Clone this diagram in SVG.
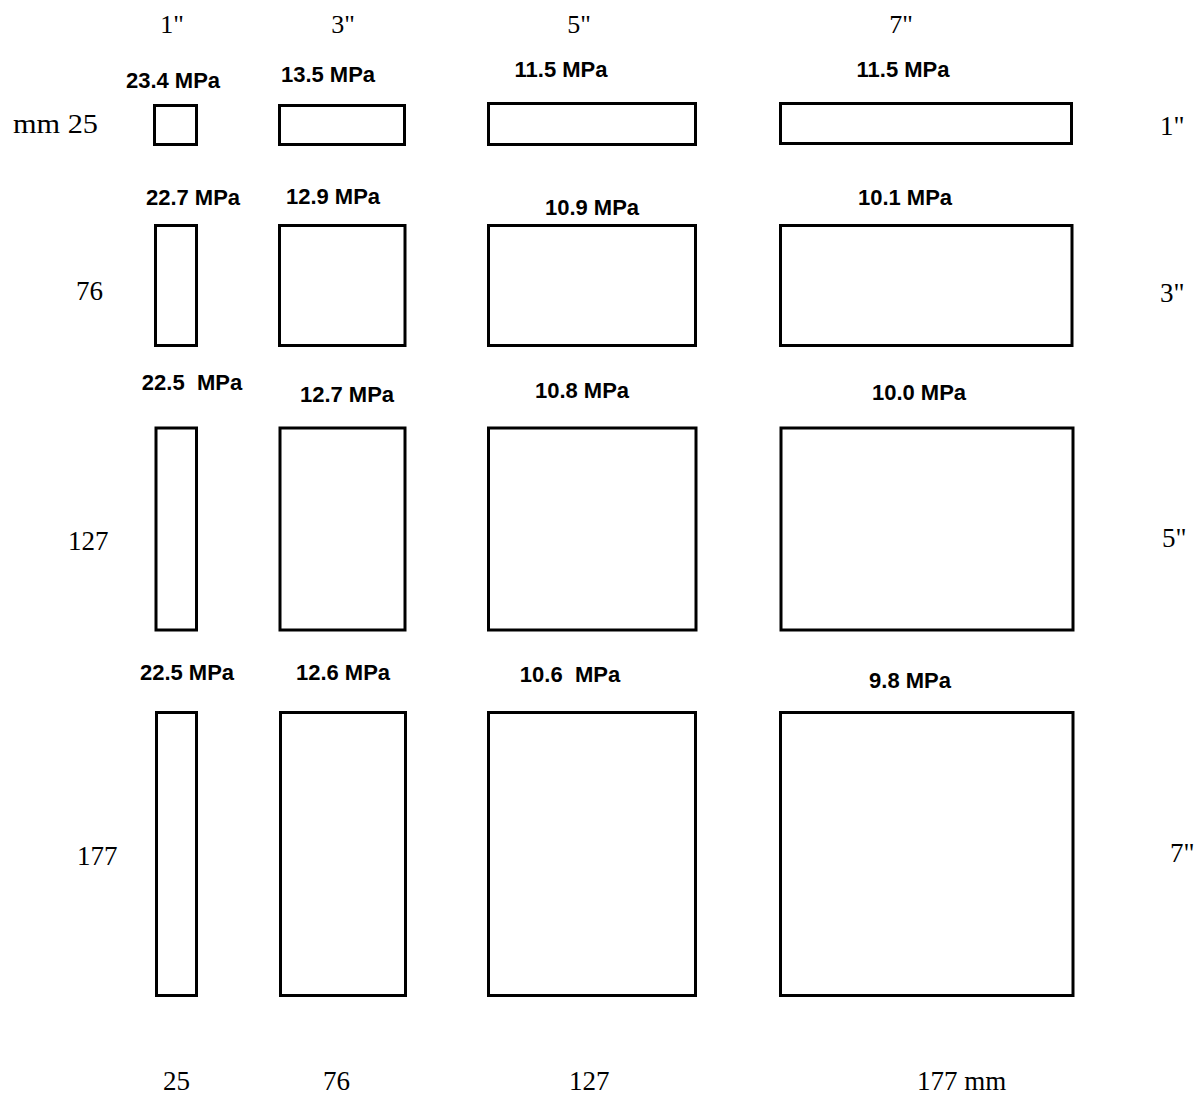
<svg xmlns="http://www.w3.org/2000/svg" width="1201" height="1097" viewBox="0 0 1201 1097">
<style>
.b{fill:none;stroke:#000;stroke-width:3}
.m{font-family:"Liberation Sans",Arial,sans-serif;font-weight:bold;font-size:22px;text-anchor:middle;fill:#000}
.s{font-family:"Liberation Serif","Times New Roman",serif;font-size:27px;fill:#000}
.t{font-family:"Liberation Serif","Times New Roman",serif;font-size:26px;fill:#000;text-anchor:middle}
</style>
<rect width="1201" height="1097" fill="#fff"/>
<g id="axis-top">
<text class="t" x="172" y="33">1"</text>
<text class="t" x="343" y="33">3"</text>
<text class="t" x="579" y="33">5"</text>
<text class="t" x="901" y="33">7"</text>
</g>
<g id="axis-left">
<text class="s" x="13" y="133" textLength="85" lengthAdjust="spacingAndGlyphs">mm 25</text>
<text class="s" x="76" y="300">76</text>
<text class="s" x="68" y="550">127</text>
<text class="s" x="77" y="865">177</text>
</g>
<g id="axis-right">
<text class="s" x="1160" y="135">1"</text>
<text class="s" x="1160" y="302">3"</text>
<text class="s" x="1162" y="547">5"</text>
<text class="s" x="1170" y="862">7"</text>
</g>
<g id="axis-bottom">
<text class="s" x="163" y="1090">25</text>
<text class="s" x="323" y="1090">76</text>
<text class="s" x="569" y="1090">127</text>
<text class="s" x="917" y="1090">177  mm</text>
</g>
<g id="r1c1"><rect class="b" x="154.5" y="105.5" width="42" height="39"/><text class="m" x="173" y="88">23.4 MPa</text></g>
<g id="r1c2"><rect class="b" x="279.5" y="105.5" width="125" height="39"/><text class="m" x="328" y="82">13.5 MPa</text></g>
<g id="r1c3"><rect class="b" x="488.5" y="103.5" width="207" height="41"/><text class="m" x="561" y="77">11.5 MPa</text></g>
<g id="r1c4"><rect class="b" x="780.5" y="103.5" width="291" height="40"/><text class="m" x="903" y="77">11.5 MPa</text></g>
<g id="r2c1"><rect class="b" x="155.5" y="225.5" width="41" height="120"/><text class="m" x="193" y="205">22.7 MPa</text></g>
<g id="r2c2"><rect class="b" x="279.5" y="225.5" width="125.5" height="120"/><text class="m" x="333" y="204">12.9 MPa</text></g>
<g id="r2c3"><rect class="b" x="488.5" y="225.5" width="207" height="120"/><text class="m" x="592" y="215">10.9 MPa</text></g>
<g id="r2c4"><rect class="b" x="780.5" y="225.5" width="291.5" height="120"/><text class="m" x="905" y="205">10.1 MPa</text></g>
<g id="r3c1"><rect class="b" x="156" y="428" width="40.5" height="202"/><text class="m" x="192" y="390" xml:space="preserve">22.5  MPa</text></g>
<g id="r3c2"><rect class="b" x="280" y="428" width="125" height="202"/><text class="m" x="347" y="402">12.7 MPa</text></g>
<g id="r3c3"><rect class="b" x="488.5" y="428" width="207.5" height="202"/><text class="m" x="582" y="398">10.8 MPa</text></g>
<g id="r3c4"><rect class="b" x="781" y="428" width="292" height="202"/><text class="m" x="919" y="400">10.0 MPa</text></g>
<g id="r4c1"><rect class="b" x="156.5" y="712.5" width="40" height="283"/><text class="m" x="187" y="680">22.5 MPa</text></g>
<g id="r4c2"><rect class="b" x="280.5" y="712.5" width="125" height="283"/><text class="m" x="343" y="680">12.6 MPa</text></g>
<g id="r4c3"><rect class="b" x="488.5" y="712.5" width="207" height="283"/><text class="m" x="570" y="682" xml:space="preserve">10.6  MPa</text></g>
<g id="r4c4"><rect class="b" x="780.5" y="712.5" width="292.5" height="283"/><text class="m" x="910" y="688">9.8 MPa</text></g>
<g id="connectors"/>
</svg>
